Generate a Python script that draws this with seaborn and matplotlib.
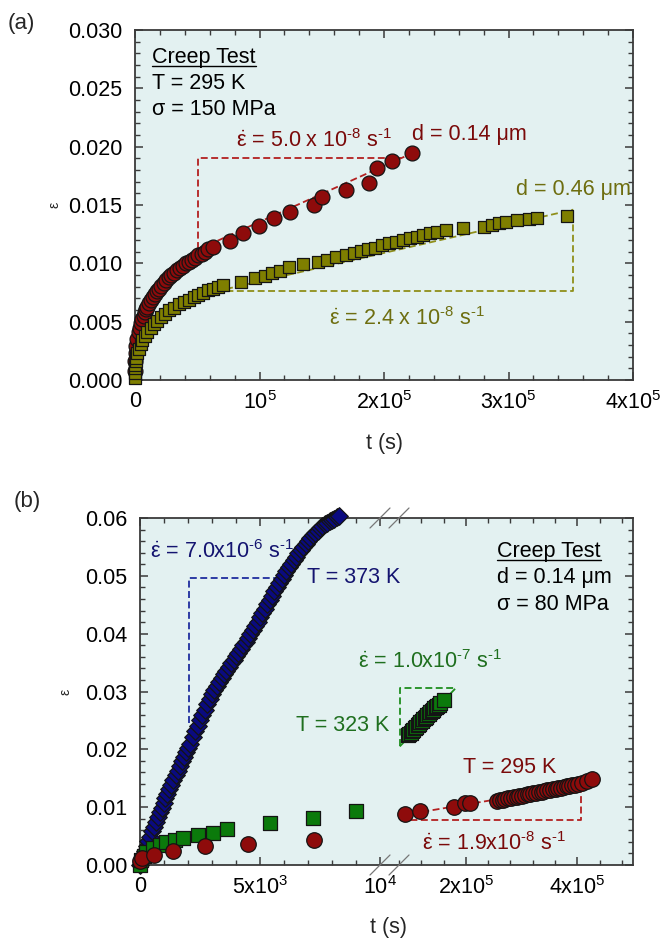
import matplotlib
matplotlib.use("Agg")
import matplotlib.pyplot as plt
import seaborn as sns
import pandas as pd
from matplotlib.lines import Line2D
from matplotlib.ticker import MultipleLocator, FixedLocator, FixedFormatter, FormatStrFormatter

# ---------------------------------------------------------------- data
# (a) creep at 295 K, 150 MPa : time (s) and strain
d014_t = [0, 300, 700, 1200, 2000, 3000, 4000, 5000, 6000, 7000, 8000, 9000,
          10000, 11500, 13000, 14500, 16000, 17500, 19000, 21000, 23000, 25000,
          27000, 29000, 31000, 33500, 36000, 38500, 41000, 43500, 46000, 48500,
          51000, 53500, 56000, 58500,
          62700, 76500, 87100, 99600, 111500, 124300, 143900, 150500, 169600,
          188000, 194300, 206200, 222800]
d014_eps = [0.0008, 0.0016, 0.0023, 0.0029, 0.0035, 0.0041, 0.0045, 0.0049, 0.0052, 0.0055,
            0.0058, 0.0061, 0.0063, 0.0066, 0.0069, 0.0071, 0.0074, 0.0076, 0.0078, 0.0081,
            0.0083, 0.0086, 0.0088, 0.0090, 0.0092, 0.0094, 0.0096, 0.0098, 0.0100, 0.0101,
            0.0103, 0.0105, 0.0107, 0.0108, 0.0110, 0.0112,
            0.01143, 0.01194, 0.01257, 0.01320, 0.01386, 0.01443, 0.01500, 0.01566, 0.01626,
            0.01691, 0.01814, 0.01880, 0.01943]

d046_t = [0, 0, 0, 300, 700, 1200, 2000, 3000, 4500, 6000, 8000, 10000, 12500, 15000,
          18000, 21000, 24000, 27500, 31000, 35000, 39000, 43000, 47000, 51000, 55000,
          59000, 63000, 67000,
          71000, 84900, 96000, 104300, 109800, 116700, 123700, 134800, 147200, 154100,
          161100, 169400, 176300, 181900, 187400, 192900, 198500, 204000, 209600, 215100,
          220700, 226200, 231700, 237200, 242700, 249700, 263500, 280200, 287100, 292600,
          298200, 306500, 316100, 323100, 346700]
d046_eps = [0.0002, 0.0006, 0.0010, 0.0013, 0.0016, 0.0019, 0.0023, 0.0027, 0.0031, 0.0034,
            0.0038, 0.0041, 0.0045, 0.0048, 0.0051, 0.0054, 0.0057, 0.0060, 0.0062, 0.0065,
            0.0067, 0.0069, 0.0071, 0.0073, 0.0075, 0.0077, 0.0078, 0.0080,
            0.00814, 0.00843, 0.00871, 0.00891, 0.00914, 0.00937, 0.00966, 0.00994, 0.01014,
            0.01029, 0.01051, 0.01071, 0.01086, 0.01106, 0.01120, 0.01134, 0.01157, 0.01171,
            0.01186, 0.01200, 0.01214, 0.01229, 0.01243, 0.01257, 0.01271, 0.01286, 0.01300,
            0.01309, 0.01329, 0.01343, 0.01357, 0.01371, 0.01380, 0.01391, 0.01406]

# (b) creep of d = 0.14 um at 80 MPa
T373_t = [0, 70, 140, 210, 280, 350, 420, 500, 580, 660, 740, 820, 900, 980, 1060, 1140,
          1220, 1300, 1390, 1480, 1570, 1660, 1750, 1840, 1930, 2020, 2100, 2200, 2300,
          2400, 2500, 2600, 2700, 2800, 2900, 3000, 3100, 3200, 3300, 3400, 3500, 3600,
          3700, 3800, 3900, 4000, 4100, 4200, 4300, 4400, 4500, 4600, 4700, 4800, 4900,
          5000, 5100, 5200, 5300, 5400, 5500, 5600, 5700, 5800, 5900, 6000, 6100, 6200,
          6300, 6400, 6500, 6600, 6700, 6800, 6900, 7000, 7100, 7200, 7300, 7400, 7500,
          7600, 7700, 7800, 7900, 8000, 8100, 8200, 8300]
T373_eps = [0.0000, 0.0009, 0.0017, 0.0025, 0.0033, 0.0041, 0.0049, 0.0058, 0.0066, 0.0075,
            0.0083, 0.0091, 0.0099, 0.0107, 0.0115, 0.0123, 0.0131, 0.0139, 0.0147, 0.0155,
            0.0163, 0.0171, 0.0179, 0.0187, 0.0195, 0.0203, 0.0210, 0.0222, 0.0232, 0.0241,
            0.0250, 0.0259, 0.0268, 0.0278, 0.0287, 0.0295, 0.0303, 0.0310, 0.0317, 0.0323,
            0.0330, 0.0336, 0.0343, 0.0349, 0.0355, 0.0361, 0.0367, 0.0373, 0.0380, 0.0386,
            0.0393, 0.0400, 0.0407, 0.0414, 0.0421, 0.0428, 0.0436, 0.0443, 0.0451, 0.0458,
            0.0465, 0.0473, 0.0480, 0.0487, 0.0494, 0.0501, 0.0508, 0.0515, 0.0521, 0.0527,
            0.0533, 0.0539, 0.0545, 0.0550, 0.0555, 0.0560, 0.0565, 0.0570, 0.0574, 0.0578,
            0.0582, 0.0586, 0.0589, 0.0592, 0.0595, 0.0597, 0.0599, 0.0601, 0.0603]

T323_t = [0, 60, 150, 270, 560, 830, 1100, 1460, 1800, 2400, 3030, 3630, 5410, 7200, 8990,
          96000, 98500, 101000, 103500, 106000, 108500, 111000, 113500, 116000, 118500,
          121000, 123500, 126000, 128500, 131000, 133500, 136000, 138500, 141000, 143500,
          146000, 148500, 151000, 154000, 160500]
T323_eps = [0.0000, 0.0008, 0.0016, 0.0023, 0.0030, 0.0035, 0.0040, 0.0043, 0.0047, 0.0052,
            0.0055, 0.0063, 0.0072, 0.0082, 0.0094,
            0.0224, 0.0227, 0.0229, 0.0232, 0.0234, 0.0237, 0.0239, 0.0242, 0.0244, 0.0247,
            0.0249, 0.0252, 0.0254, 0.0256, 0.0259, 0.0261, 0.0264, 0.0266, 0.0268, 0.0271,
            0.0273, 0.0275, 0.0277, 0.0280, 0.0286]

T295_t = [0, 80, 570, 1390, 2690, 4520, 7230,
          91000, 117000, 178000, 198000, 208000,
          256000, 261000, 266000, 271000, 276000, 281000, 286000, 291000, 296000, 301000,
          306000, 311000, 316000, 321000, 326000, 331000, 336000, 341000, 346000, 351000,
          356000, 361000, 366000, 371000, 376000, 381000, 386000, 391000, 396000, 401000,
          408000, 418000, 427000]
T295_eps = [0.0007, 0.0012, 0.0017, 0.0025, 0.0032, 0.0037, 0.0043,
            0.0089, 0.0094, 0.0101, 0.0107, 0.0108,
            0.0111, 0.0112, 0.0113, 0.0114, 0.0115, 0.0116, 0.0117, 0.0118, 0.0119, 0.0120,
            0.0121, 0.0122, 0.0123, 0.0124, 0.0125, 0.0126, 0.0127, 0.0128, 0.0129, 0.0130,
            0.0131, 0.0132, 0.0133, 0.0134, 0.0135, 0.0136, 0.0137, 0.0138, 0.0139, 0.0140,
            0.0142, 0.0146, 0.0149]

# tick labels
a_xticks = [0, 1e5, 2e5, 3e5, 4e5]
a_xlabels = ["0", "10$^{5}$", "2x10$^{5}$", "3x10$^{5}$", "4x10$^{5}$"]
b_left_ticks = [0, 5e3, 1e4]
b_left_labels = ["0", "5x10$^{3}$", "10$^{4}$"]
b_right_ticks = [2e5, 4e5]
b_right_labels = ["2x10$^{5}$", "4x10$^{5}$"]

# ---------------------------------------------------------------- style
sns.set_style("ticks")
plt.rcParams.update({
    "font.family": ["Liberation Sans", "DejaVu Sans"],
    "mathtext.fontset": "custom",
    "mathtext.rm": "Liberation Sans",
    "mathtext.it": "Liberation Sans:italic",
    "mathtext.bf": "Liberation Sans:bold",
    "lines.scale_dashes": False,
})

BG = "#E3F1F1"
SPINE = "#3a3a3a"
EDGE = "#141414"
RED_M, RED_T, RED_L = "#8E0B0B", "#7A0A0A", "#B32020"
OLV_M, OLV_T, OLV_L = "#7F7F00", "#6E6E10", "#8F8F1A"
BLU_M, BLU_T, BLU_L = "#0A0A80", "#141470", "#1E2E9E"
GRN_M, GRN_T, GRN_L = "#0B7A0B", "#1F6F1F", "#1E8E1E"
FS = 15.5

W, H, DPI = 661, 939, 100
fig = plt.figure(figsize=(W / DPI, H / DPI), dpi=DPI)
fig.patch.set_facecolor("white")


def rect(x0, y0, x1, y1):
    return [x0 / W, 1 - y1 / H, (x1 - x0) / W, (y1 - y0) / H]


def ftext(x, y, s, color="black", size=FS, **kw):
    return fig.text(x / W, 1 - y / H, s, color=color, fontsize=size,
                    ha="left", va="baseline", **kw)


def style_ticks(ax):
    ax.tick_params(which="both", direction="in", colors=SPINE, labelcolor="black",
                   labelsize=FS)
    ax.tick_params(which="major", length=6, width=1.1)
    ax.tick_params(which="minor", length=3.5, width=1.0)


def scatter(ax, t, e, marker, s, color, keep):
    df = pd.DataFrame({"t": t, "eps": e})
    df = df[keep(df["t"])]
    sns.scatterplot(data=df, x="t", y="eps", ax=ax, marker=marker, s=s, color=color,
                    edgecolor=EDGE, linewidth=0.9, clip_on=False, legend=False, zorder=3)
    ax.set_xlabel("")
    ax.set_ylabel("")


def dashed(ax, xs, ys, color):
    ax.plot(xs, ys, color=color, lw=1.3, dashes=(5, 2.5), zorder=2, clip_on=False)


def rate(value, exp, spaced=True):
    x = " x " if spaced else "x"
    return (r"$\dot{\mathrm{\varepsilon}}$ = " + value + x +
            r"10$^{\text{-}" + exp + r"}$ s$^{\text{-}1}$")


# ---------------------------------------------------------------- panel (a)
ax = fig.add_axes(rect(135, 30, 633, 380))
ax.set_facecolor(BG)
for sp in ax.spines.values():
    sp.set_color(SPINE)
    sp.set_linewidth(1.3)

dashed(ax, [51000, 51000, 213500], [0.0112, 0.0190, 0.0190], RED_L)
dashed(ax, [51000, 226000], [0.0112, 0.0196], RED_L)
dashed(ax, [65000, 352000, 352000], [0.0076, 0.0076, 0.0140], OLV_L)
dashed(ax, [65000, 352000], [0.0076, 0.0146], OLV_L)

scatter(ax, d014_t, d014_eps, "o", 115, RED_M, lambda t: t >= 0)
scatter(ax, d046_t, d046_eps, "s", 85, OLV_M, lambda t: t >= 0)

ax.set_xlim(0, 4e5)
ax.set_ylim(0, 0.030)
ax.xaxis.set_major_locator(FixedLocator(a_xticks))
ax.xaxis.set_major_formatter(FixedFormatter(a_xlabels))
ax.xaxis.set_minor_locator(MultipleLocator(2e4))
ax.yaxis.set_major_locator(MultipleLocator(0.005))
ax.yaxis.set_major_formatter(FormatStrFormatter("%.3f"))
ax.yaxis.set_minor_locator(MultipleLocator(0.001))
style_ticks(ax)
ax.tick_params(which="both", top=True, right=True)
ax.tick_params(axis="y", pad=9)
ax.tick_params(axis="x", pad=8)

ct_a = ftext(152, 63, "Creep Test")
ftext(152, 89, "T = 295 K")
ftext(152, 115, "σ = 150 MPa")
ftext(236, 147, rate("5.0", "8"), RED_T)
ftext(412, 140, "d = 0.14 μm", RED_T)
ftext(516, 195, "d = 0.46 μm", OLV_T)
ftext(329, 325, rate("2.4", "8"), OLV_T)

fig.text(384 / W, 1 - 443 / H, "t (s)", fontsize=FS, ha="center", va="center")
fig.text(55 / W, 1 - 205 / H, "ε", fontsize=10, ha="center", va="center", rotation=90)
fig.text(8 / W, 1 - 23 / H, "(a)", fontsize=16, ha="left", va="center")

# ---------------------------------------------------------------- panel (b)
frame = fig.add_axes(rect(140, 518, 633, 865))
frame.set_facecolor(BG)
frame.set_xticks([])
frame.set_yticks([])
for sp in frame.spines.values():
    sp.set_color(SPINE)
    sp.set_linewidth(1.3)

axl = fig.add_axes(rect(140, 518, 380, 865))
axr = fig.add_axes(rect(399, 518, 633, 865))
for a in (axl, axr):
    a.set_facecolor("none")
    for sp in a.spines.values():
        sp.set_visible(False)
    a.set_ylim(0, 0.06)
    a.yaxis.set_major_locator(MultipleLocator(0.01))
    a.yaxis.set_minor_locator(MultipleLocator(0.002))
    style_ticks(a)

axl.set_xlim(0, 1e4)
axr.set_xlim(8e4, 5e5)

# slope guides
dashed(axl, [2030, 2030, 5860], [0.0245, 0.0496, 0.0496], BLU_L)
dashed(axr, [81400, 81400, 182000], [0.0205, 0.0306, 0.0306], GRN_L)
dashed(axr, [81400, 182000], [0.0205, 0.0306], GRN_L)
dashed(axr, [81000, 407000, 407000], [0.0077, 0.0077, 0.0138], RED_L)
dashed(axr, [85000, 407000], [0.0086, 0.0138], RED_L)

left = lambda t: t <= 1e4
right = lambda t: t > 1e4
scatter(axl, T373_t, T373_eps, "D", 80, BLU_M, left)
scatter(axl, T323_t, T323_eps, "s", 100, GRN_M, left)
scatter(axr, T323_t, T323_eps, "s", 100, GRN_M, right)
scatter(axl, T295_t, T295_eps, "o", 125, RED_M, left)
scatter(axr, T295_t, T295_eps, "o", 125, RED_M, right)

axl.set_xlim(0, 1e4)
axr.set_xlim(8e4, 5e5)
axl.set_ylim(0, 0.06)
axr.set_ylim(0, 0.06)

axl.xaxis.set_major_locator(FixedLocator(b_left_ticks))
axl.xaxis.set_major_formatter(FixedFormatter(b_left_labels))
axl.xaxis.set_minor_locator(MultipleLocator(1e3))
axl.yaxis.set_major_formatter(FormatStrFormatter("%.2f"))
axl.tick_params(which="both", top=True, right=False, left=True)
axl.tick_params(axis="y", pad=9)
axl.tick_params(axis="x", pad=8)

axr.xaxis.set_major_locator(FixedLocator(b_right_ticks))
axr.xaxis.set_major_formatter(FixedFormatter(b_right_labels))
axr.xaxis.set_minor_locator(MultipleLocator(4e4))
axr.tick_params(which="both", top=True, right=True, left=False, labelleft=False)
axr.tick_params(axis="x", pad=8)

# axis break marks
for xb in (380, 399):
    for yb in (518, 865):
        fig.add_artist(Line2D([(xb - 10) / W, (xb + 10) / W],
                              [1 - (yb + 10) / H, 1 - (yb - 10) / H],
                              color="#777777", lw=0.9))

ct_b = ftext(497, 557, "Creep Test")
ftext(497, 583, "d = 0.14 μm")
ftext(497, 610, "σ = 80 MPa")
ftext(150, 558, rate("7.0", "6", False), BLU_T)
ftext(307, 583, "T = 373 K", BLU_T)
ftext(358, 668, rate("1.0", "7", False), GRN_T)
ftext(296, 731, "T = 323 K", GRN_T)
ftext(463, 773, "T = 295 K", RED_T)
ftext(422, 850, rate("1.9", "8", False), RED_T)

fig.text(389 / W, 1 - 928 / H, "t (s)", fontsize=FS, ha="center", va="center")
fig.text(65 / W, 1 - 692 / H, "ε", fontsize=10, ha="center", va="center", rotation=90)
fig.text(14 / W, 1 - 501 / H, "(b)", fontsize=16, ha="left", va="center")

# underline the "Creep Test" headings just below their baselines
fig.canvas.draw()
rend = fig.canvas.get_renderer()
for t, base in ((ct_a, 63), (ct_b, 557)):
    bb = t.get_window_extent(rend)
    yl = 1 - (base + 3) / H
    fig.add_artist(Line2D([bb.x0 / W, bb.x1 / W], [yl, yl], color="black", lw=1.0))

fig.savefig("out.png", dpi=DPI)
